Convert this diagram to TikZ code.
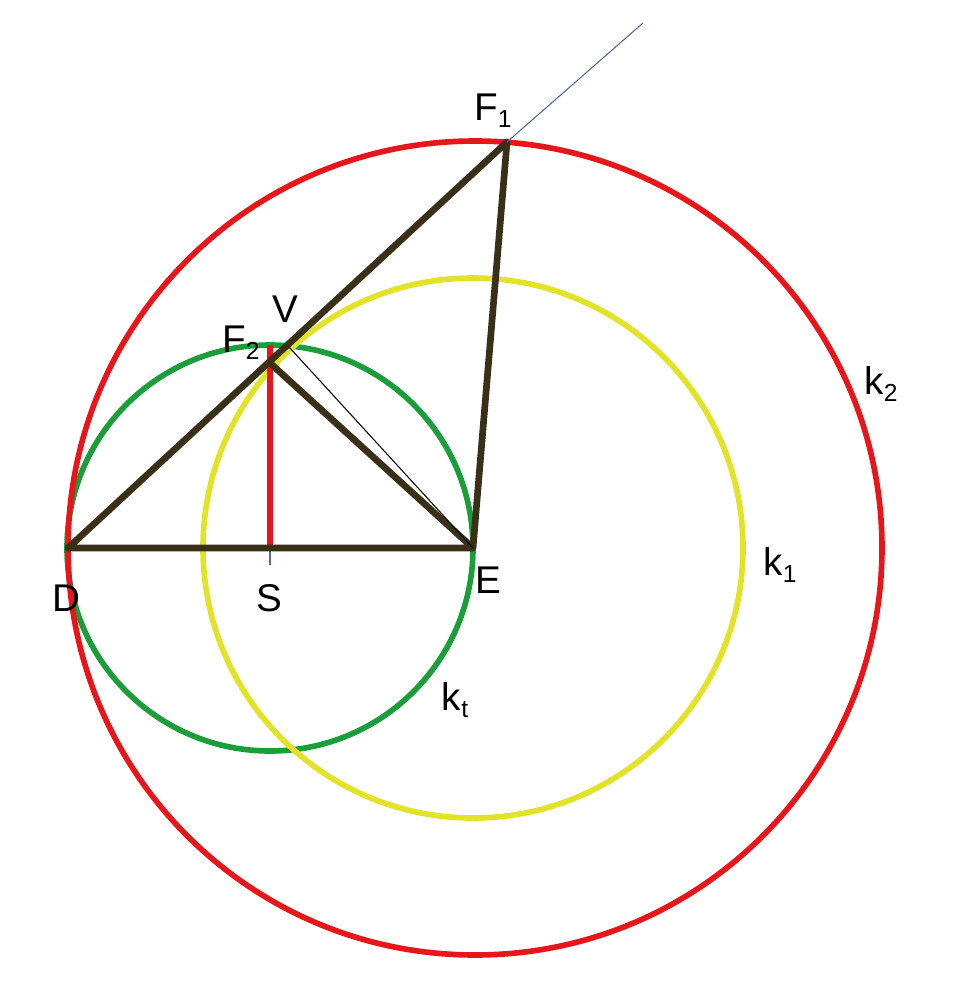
\documentclass[tikz,border=0pt]{standalone}
\usepackage{fontspec}
\setmainfont{Liberation Sans}
\usepackage{tikz}
\definecolor{ktwo}{RGB}{232,22,26}
\definecolor{kone}{RGB}{226,226,38}
\definecolor{kgreen}{RGB}{26,158,58}
\definecolor{sidebrown}{RGB}{58,48,24}
\definecolor{rayblue}{RGB}{80,108,158}
\newcommand{\lowidx}[1]{\raisebox{-0.18em}{\fontsize{14}{15}\selectfont #1}}
\tikzset{
x=0.2mm, y=-0.2mm, % one unit is one pixel of the sketch, y runs downwards
side/.style={draw=sidebrown, line width=3.8pt, line join=round}, % the thick sides
circ/.style={line width=3.2pt}, % sets the width of the three circles
hairline/.style={line width=0.6pt}, % thin helper lines
lbl/.style={font=\fontsize{22}{26}\selectfont, inner sep=0pt}, % the point and circle names
}

\begin{document}
\begin{tikzpicture}
    \useasboundingbox (0,0) rectangle (964,1000);
    \coordinate (D) at (68,548);
    \coordinate (E) at (473,548);
    \coordinate (S) at (270,548);
    \coordinate (M) at (475,548);
    \coordinate (F1) at (507,142);
    \coordinate (F2) at (270,363);
    \coordinate (V) at (289,347);
    \coordinate (top) at (270,345);
    \coordinate (tick) at (270,565);
    \coordinate (ray) at (643,23);

    \draw[circ, kgreen] (S) circle (203);
    \draw[circ, kone] (E) circle (270);
    \draw[circ, ktwo] (M) circle (407);
    \draw[line width=3pt, ktwo] (S) -- (top);
    \draw[hairline, rayblue] (S) -- (tick);
    \draw[side] (D) -- (F1) -- (E) -- cycle;
    \draw[side] (F2) -- (E);
    \draw[hairline, black] (V) -- (E);
    \draw[hairline, rayblue] (F1) -- (ray);

    \node[lbl] (lF1) at ([shift={(-14,-31)}]F1) {F\lowidx{1}};
    \node[lbl] (lV) at ([shift={(-4,-38)}]V) {V};
    \node[lbl] (lF2) at ([shift={(-29,-20)}]F2) {F\lowidx{2}};
    \node[lbl] (lD) at ([shift={(-2,50)}]D) {D};
    \node[lbl] (lS) at ([shift={(-1,50)}]S) {S};
    \node[lbl] (lE) at ([shift={(15,32)}]E) {E};
    \node[lbl] (k1) at ([shift={(307,17)}]E) {k\lowidx{1}};
    \node[lbl] (k2) at ([shift={(408,-164)}]E) {k\lowidx{2}};
    \node[lbl] (kt) at ([shift={(185,152)}]S) {k\lowidx{t}};
\end{tikzpicture}
\end{document}
